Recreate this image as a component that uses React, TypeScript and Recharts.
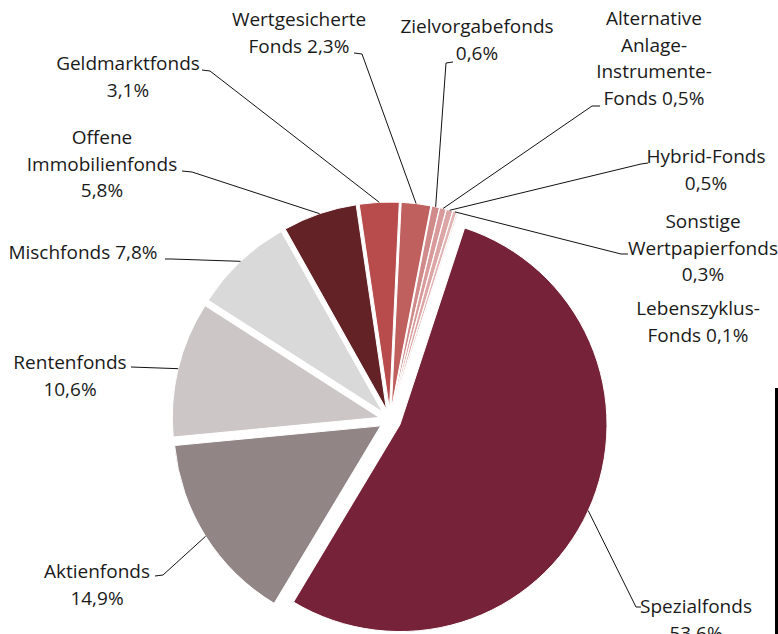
// Fondsvermögen nach Fondsarten — Tortendiagramm mit leicht herausgezogenen Segmenten
// und handplatzierten Beschriftungen wie im Original.
import React from 'react';
import { PieChart, Pie, Cell, Sector } from 'recharts';

// Kategorien (Zeilenumbrüche wie in der Vorlage) und Anteile in %
const NAME_LINES: string[][] = [
  ['Spezialfonds'],
  ['Aktienfonds'],
  ['Rentenfonds'],
  ['Mischfonds'],
  ['Offene', 'Immobilienfonds'],
  ['Geldmarktfonds'],
  ['Wertgesicherte', 'Fonds'],
  ['Zielvorgabefonds'],
  ['Alternative', 'Anlage-', 'Instrumente-', 'Fonds'],
  ['Hybrid-Fonds'],
  ['Sonstige', 'Wertpapierfonds'],
  ['Lebenszyklus-', 'Fonds'],
];
const SHARES = [53.6, 14.9, 10.6, 7.8, 5.8, 3.1, 2.3, 0.6, 0.5, 0.5, 0.3, 0.1];
// Prozentwert in derselben Zeile wie der letzte Namensteil?
const VALUE_INLINE = [false, false, false, true, false, false, true, false, true, false, false, true];

const COLORS = [
  '#76233A', '#918585', '#CDC6C6', '#D9D9D9', '#632326', '#B84C4C',
  '#C0605E', '#D18A8A', '#D89A9A', '#DDA6A6', '#E2B4B4', '#E8C4C4',
];

// Beschriftungslage: Textmitte, erste Grundlinie, Knickpunkte der Führungslinie
const LABEL_LAYOUT: { x: number; y: number; leader: [number, number][] }[] = [
  { x: 696, y: 613, leader: [[636, 607], [641, 607]] },
  { x: 97, y: 578, leader: [[163, 575], [155, 576]] },
  { x: 70, y: 369, leader: [[131, 367]] },
  { x: 83, y: 259, leader: [[172, 259], [165, 259]] },
  { x: 102, y: 144, leader: [[192, 172], [182, 171]] },
  { x: 128, y: 70, leader: [[210, 71], [202, 70]] },
  { x: 299, y: 26, leader: [[362, 54], [354, 53]] },
  { x: 477, y: 33, leader: [[446, 63], [453, 62]] },
  { x: 654, y: 25, leader: [[592, 106], [600, 106]] },
  { x: 706, y: 163, leader: [[641, 164], [648, 163]] },
  { x: 703, y: 228, leader: [[621, 254], [628, 254]] },
  { x: 698, y: 315, leader: [] },
];

const data = NAME_LINES.map((lines, i) => ({
  name: lines.reduce((acc, l) => (acc === '' ? l : acc.endsWith('-') ? acc + l : `${acc} ${l}`), ''),
  value: SHARES[i],
}));

const RAD = Math.PI / 180;
const EXPLODE = 11;
const LINE_H = 26.7;
const FONT = "'Open Sans', sans-serif";

const fmt = (v: number) => `${v.toFixed(1).replace('.', ',')}%`;

const offset = (mid: number) => ({
  dx: EXPLODE * Math.cos(-mid * RAD),
  dy: EXPLODE * Math.sin(-mid * RAD),
});

const renderSlice = (props: any) => {
  const { dx, dy } = offset(props.midAngle);
  return <Sector {...props} cx={props.cx + dx} cy={props.cy + dy} />;
};

const labelLines = (i: number) => {
  const lines = [...NAME_LINES[i]];
  if (VALUE_INLINE[i]) lines[lines.length - 1] += ` ${fmt(SHARES[i])}`;
  else lines.push(fmt(SHARES[i]));
  return lines;
};

const renderLabel = (props: any) => {
  const { cx, cy, midAngle, outerRadius, index } = props;
  const layout = LABEL_LAYOUT[index];
  const { dx, dy } = offset(midAngle);
  const ax = cx + dx + outerRadius * Math.cos(-midAngle * RAD);
  const ay = cy + dy + outerRadius * Math.sin(-midAngle * RAD);
  const pts = [[ax, ay], ...layout.leader].map((p) => p.join(',')).join(' ');
  return (
    <g key={`lbl-${index}`}>
      {layout.leader.length > 0 && (
        <polyline points={pts} fill="none" stroke="#111" strokeWidth={1} />
      )}
      <text x={layout.x} y={layout.y} textAnchor="middle" fill="#1a1a1a" fontFamily={FONT} fontSize={19}>
        {labelLines(index).map((l, k) => (
          <tspan key={k} x={layout.x} dy={k === 0 ? 0 : LINE_H}>{l}</tspan>
        ))}
      </text>
    </g>
  );
};

export default function App() {
  return (
    <div style={{ position: 'absolute', left: 0, top: 0, width: 778, height: 634, background: '#fff', overflow: 'hidden' }}>
      <PieChart width={778} height={634} margin={{ top: 0, right: 0, bottom: 0, left: 0 }}>
        <Pie
          data={data}
          dataKey="value"
          nameKey="name"
          cx={390}
          cy={420}
          outerRadius={207}
          startAngle={71.8}
          endAngle={-288.2}
          stroke="#fff"
          strokeWidth={1}
          shape={renderSlice}
          label={renderLabel}
          labelLine={false}
          isAnimationActive={false}
        >
          {data.map((d, i) => (
            <Cell key={d.name} fill={COLORS[i]} />
          ))}
        </Pie>
      </PieChart>
      <div style={{ position: 'absolute', left: 775, top: 388, width: 3, height: 246, background: '#000' }} />
    </div>
  );
}
